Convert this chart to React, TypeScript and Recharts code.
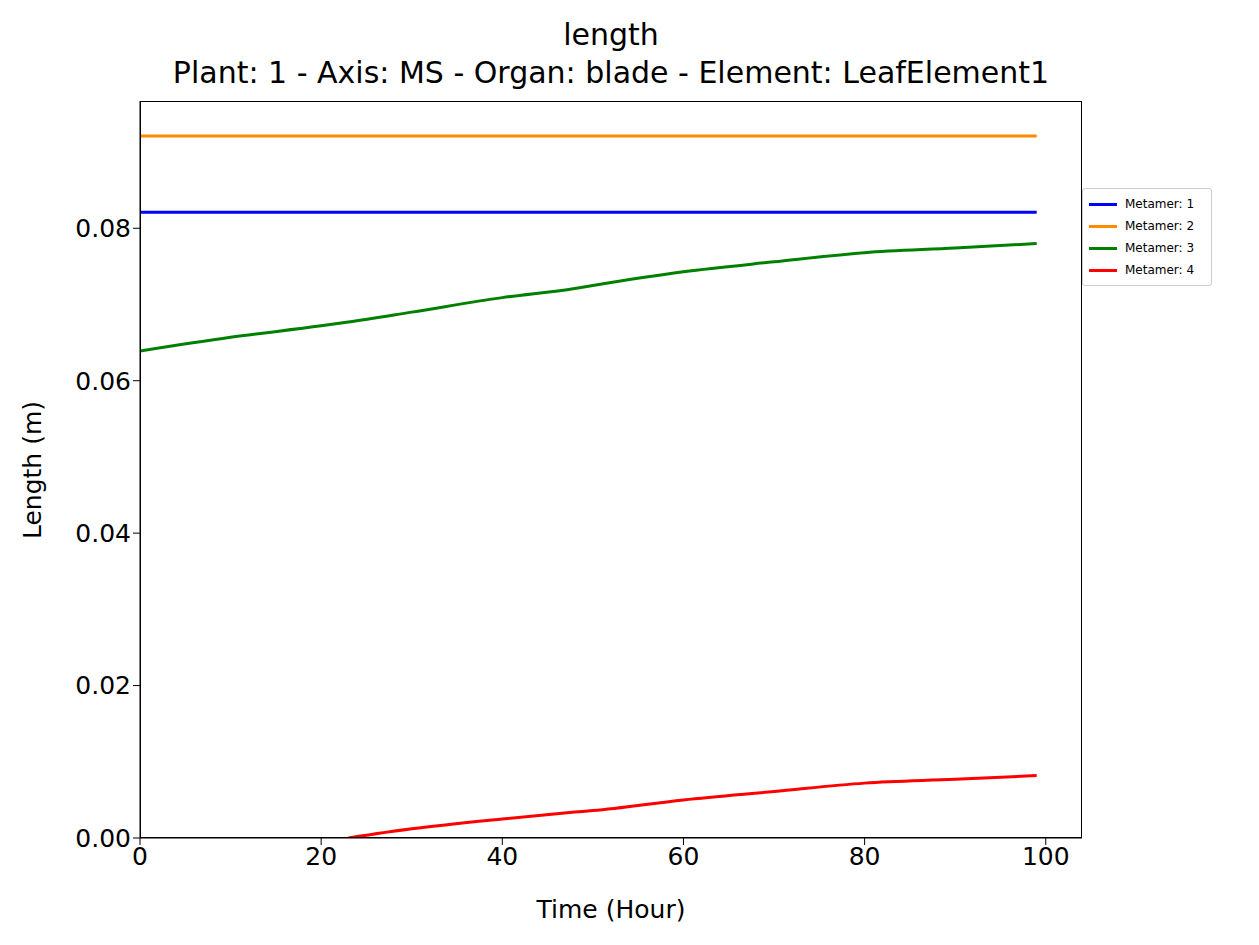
import React from "react";
import { LineChart, Line, XAxis, YAxis } from "recharts";

const times = [0, 10, 20, 23, 30, 40, 48, 50, 60, 70, 80, 90, 99];
const metamer1 = [0.0821, 0.0821, 0.0821, 0.0821, 0.0821, 0.0821, 0.0821, 0.0821, 0.0821, 0.0821, 0.0821, 0.0821, 0.0821];
const metamer2 = [0.0921, 0.0921, 0.0921, 0.0921, 0.0921, 0.0921, 0.0921, 0.0921, 0.0921, 0.0921, 0.0921, 0.0921, 0.0921];
const metamer3 = [0.0639, 0.0657, 0.0672, 0.0677, 0.0690, 0.0709, 0.0721, 0.0725, 0.0743, 0.0756, 0.0768, 0.0774, 0.0780];
const metamer4 = [null, null, null, 0.0, 0.0012, 0.0025, 0.0034, 0.0036, 0.0050, 0.0061, 0.0072, 0.0077, 0.0082];
const xTicks = [0, 20, 40, 60, 80, 100];
const yTicks = [0, 0.02, 0.04, 0.06, 0.08];

const data = times.map((t, i) => ({
  t,
  m1: metamer1[i],
  m2: metamer2[i],
  m3: metamer3[i],
  m4: metamer4[i],
}));

const series = [
  { key: "m1", name: "Metamer: 1", color: "#0000ff" },
  { key: "m2", name: "Metamer: 2", color: "#ff8c00" },
  { key: "m3", name: "Metamer: 3", color: "#008000" },
  { key: "m4", name: "Metamer: 4", color: "#ff0000" },
];

const font = "DejaVu Sans, sans-serif";

export default function App() {
  return (
    <div style={{ position: "absolute", left: 0, top: 0, width: 1259, height: 945, background: "#fff", fontFamily: font }}>
      <div style={{ position: "absolute", top: 16, width: 1222, textAlign: "center", fontSize: 30, lineHeight: "38px" }}>
        length
        <br />
        Plant: 1 - Axis: MS - Organ: blade - Element: LeafElement1
      </div>
      <LineChart width={1259} height={945} data={data} margin={{ top: 101, right: 177, bottom: 67, left: 50 }}>
        <XAxis
          dataKey="t"
          type="number"
          domain={[0, 104]}
          ticks={xTicks}
          allowDataOverflow
          stroke="#000"
          tick={{ fill: "#000", fontSize: 25, fontFamily: font }}
          tickSize={7}
          height={40}
        />
        <YAxis
          type="number"
          domain={[0, 0.0967]}
          ticks={yTicks}
          allowDataOverflow
          stroke="#000"
          tickFormatter={(v: number) => v.toFixed(2)}
          tick={{ fill: "#000", fontSize: 25, fontFamily: font }}
          tickSize={7}
          width={90}
        />
        {series.map((s) => (
          <Line
            key={s.key}
            dataKey={s.key}
            name={s.name}
            type="monotone"
            stroke={s.color}
            strokeWidth={3}
            dot={false}
            isAnimationActive={false}
          />
        ))}
      </LineChart>
      <div style={{ position: "absolute", left: 140, top: 101, width: 942, height: 737, border: "1.5px solid #000", boxSizing: "border-box", pointerEvents: "none" }} />
      <div style={{ position: "absolute", top: 893, left: 140, width: 942, textAlign: "center", fontSize: 25, lineHeight: "34px" }}>Time (Hour)</div>
      <div style={{ position: "absolute", left: 32, top: 470, fontSize: 25, transform: "translate(-50%, -50%) rotate(-90deg)", whiteSpace: "nowrap" }}>Length (m)</div>
      <div style={{ position: "absolute", left: 1082, top: 188, width: 130, height: 98, border: "1px solid #ccc", borderRadius: 3, boxSizing: "border-box", padding: "4px 6px", background: "#fff" }}>
        {series.map((s) => (
          <div key={s.key} style={{ display: "flex", alignItems: "center", height: 22, fontSize: 12 }}>
            <span style={{ width: 28, height: 3, background: s.color, marginRight: 8 }} />
            {s.name}
          </div>
        ))}
      </div>
    </div>
  );
}
